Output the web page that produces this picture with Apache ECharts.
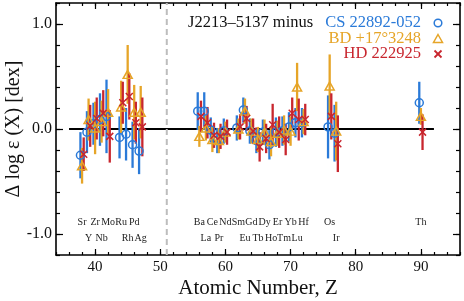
<!DOCTYPE html>
<html><head><meta charset="utf-8">
<script src="https://cdn.jsdelivr.net/npm/echarts@6/dist/echarts.min.js"></script>
<style>html,body{margin:0;padding:0;background:#fff}#c{width:464px;height:301px}</style>
</head><body><div id="c"></div>
<script>
// ---------------- data ----------------
const Z       = [38, 39, 40, 41, 42, 44, 45, 46, 47, 56, 57, 58, 59, 60, 62, 63, 64, 65, 66, 67, 68, 69, 70, 71, 72, 76, 77, 90];
const csVal   = [-0.25,-0.03, 0.05, 0.09, 0.12,-0.08,-0.05,-0.15,-0.21, 0.17, 0.17,-0.01,-0.11,-0.02, 0.01, 0.18,-0.02,-0.11,-0.03,-0.15,-0.03,-0.02, 0.02, 0.06, 0.06, 0.02,-0.04, 0.25];
const csErr   = [ 0.22, 0.20, 0.20, 0.25, 0.35, 0.20, 0.25, 0.22, 0.22, 0.18, 0.18, 0.12, 0.12, 0.12, 0.12, 0.12, 0.12, 0.12, 0.12, 0.14, 0.14, 0.14, 0.14, 0.14, 0.14, 0.30, 0.27, 0.20];
const bdVal   = [-0.35, 0.09, 0.01, 0.07, 0.16, 0.21, 0.52, 0.16, 0.16,-0.07, 0.01,-0.10,-0.11,-0.03, 0.00, 0.17,-0.02,-0.10,-0.03,-0.12,-0.04,-0.01,-0.02, 0.40, 0.07, 0.41,-0.02, 0.12];
const bdErr   = [ 0.17, 0.20, 0.25, 0.20, 0.22, 0.25, 0.28, 0.26, 0.25, 0.10, 0.12, 0.12, 0.12, 0.10, 0.10, 0.12, 0.12, 0.12, 0.12, 0.14, 0.12, 0.14, 0.14, 0.23, 0.12, 0.30, 0.28, 0.08];
const hdVal   = [-0.24, 0.03, 0.10, 0.15,-0.07, 0.25, 0.31, 0.06, 0.02, 0.12, 0.06,-0.06,-0.07,-0.03, 0.02, 0.10,-0.02,-0.17,-0.09, 0.04,-0.03,-0.10, 0.15, 0.09, 0.09, 0.12,-0.14,-0.03];
const hdErr   = [ 0.16, 0.20, 0.20, 0.22, 0.25, 0.20, 0.22, 0.20, 0.28, 0.15, 0.15, 0.12, 0.12, 0.12, 0.12, 0.12, 0.12, 0.14, 0.14, 0.20, 0.15, 0.15, 0.15, 0.20, 0.15, 0.22, 0.27, 0.17];
const upperNames = ['Sr','Zr','Mo','Ru','Pd','Ba','Ce','Nd','Sm','Gd','Dy','Er','Yb','Hf','Os','Th'];
const upperZ     = [38, 40, 42, 44, 46, 56, 58, 60, 62, 64, 66, 68, 70, 72, 76, 90];
const lowerNames = ['Y','Nb','Rh','Ag','La','Pr','Eu','Tb','Ho','Tm','Lu','Ir'];
const lowerZ     = [39, 41, 45, 47, 57, 59, 63, 65, 67, 69, 71, 77];
const xTickLabels = [40, 50, 60, 70, 80, 90];
const yTickLabels = [-1, 0, 1];
const seriesNames = ['CS 22892-052', 'BD +17°3248', 'HD 222925'];
const titleText = 'J2213–5137 minus';
const zeroLineZ = [36, 92];
const dividerZ = 51;

// ---------------- style ----------------
const FONT = '"Liberation Serif", "DejaVu Serif", serif';
const BLUE = '#2a7ad8', ORANGE = '#e6a528', RED = '#c8262e';
const X_MIN = 34, X_MAX = 96, Y_MIN = -1.2, Y_MAX = 1.2;
const UPPER_Y = -0.89, LOWER_Y = -1.045;

const stars = [
  {name: seriesNames[0], val: csVal, err: csErr, color: BLUE,   off: -0.25, symbol: 'circle', size: 8},
  {name: seriesNames[1], val: bdVal, err: bdErr, color: ORANGE, off: 0,     symbol: 'triangle', size: [9, 8]},
  {name: seriesNames[2], val: hdVal, err: hdErr, color: RED,    off: 0.25,  symbol: 'path://M0 0L10 10M10 0L0 10', size: 7}
];

const series = [];
series.push({
  type: 'line', data: [[zeroLineZ[0], 0], [zeroLineZ[1], 0]], symbol: 'none', silent: true, z: 1,
  lineStyle: {color: '#000', width: 2}
});
series.push({
  type: 'line', data: [[dividerZ, Y_MIN], [dividerZ, Y_MAX]], symbol: 'none', silent: true, z: 1,
  lineStyle: {color: '#bdbdbd', width: 2, type: [6, 4]}
});
stars.forEach(s => {
  series.push({
    type: 'custom', name: s.name + ' err', z: 2, silent: true,
    data: Z.map((z, i) => [z, s.val[i] - s.err[i], s.val[i] + s.err[i]]),
    renderItem: (params, api) => {
      const p1 = api.coord([api.value(0) + s.off, api.value(1)]);
      const p2 = api.coord([api.value(0) + s.off, api.value(2)]);
      return {type: 'line', shape: {x1: p1[0], y1: p1[1], x2: p2[0], y2: p2[1]},
              style: {stroke: s.color, lineWidth: 2.3}};
    }
  });
});
stars.forEach(s => {
  series.push({
    type: 'scatter', name: s.name, z: 3, silent: true,
    symbol: s.symbol, symbolSize: s.size,
    data: Z.map((z, i) => [z + s.off, s.val[i]]),
    itemStyle: {color: 'rgba(0,0,0,0)', borderColor: s.color, borderWidth: 1.5, opacity: 1}
  });
});
function labelSeries(names, zs, yLevel) {
  return {
    type: 'custom', z: 4, silent: true,
    data: zs.map((z, i) => [z, yLevel, names[i]]),
    renderItem: (params, api) => {
      const p = api.coord([api.value(0), api.value(1)]);
      return {type: 'text', x: p[0], y: p[1],
              style: {text: names[params.dataIndex], fill: '#222', font: '10px ' + FONT,
                      align: 'center', verticalAlign: 'middle'}};
    }
  };
}
series.push(labelSeries(upperNames, upperZ, UPPER_Y));
series.push(labelSeries(lowerNames, lowerZ, LOWER_Y));

const axisCommonX = {type: 'value', min: X_MIN, max: X_MAX, gridIndex: 0, splitLine: {show: false}};
const axisCommonY = {type: 'value', min: Y_MIN, max: Y_MAX, gridIndex: 0, splitLine: {show: false}};
const tickStyle = {color: '#000', width: 1.2};

const option = {
  animation: false,
  grid: {left: 56, right: 4, top: 3, bottom: 46, containLabel: false, outerBoundsMode: 'none'},
  xAxis: [
    Object.assign({}, axisCommonX, {
      position: 'bottom', interval: 2,
      axisLine: {show: true, onZero: false, lineStyle: {color: '#000', width: 1.6}},
      axisTick: {show: true, inside: true, length: 3, lineStyle: tickStyle},
      axisLabel: {customValues: xTickLabels, color: '#111', fontFamily: FONT, fontSize: 15, margin: 5},
      name: 'Atomic Number, Z', nameLocation: 'middle', nameGap: 23, nameMoveOverlap: false,
      nameTextStyle: {color: '#111', fontFamily: FONT, fontSize: 21}
    }),
    Object.assign({}, axisCommonX, {
      position: 'bottom',
      axisLine: {show: false, onZero: false},
      axisTick: {show: true, inside: true, length: 6, customValues: xTickLabels, lineStyle: tickStyle},
      axisLabel: {show: false}
    }),
    Object.assign({}, axisCommonX, {
      position: 'top', interval: 2,
      axisLine: {show: true, onZero: false, lineStyle: {color: '#000', width: 1.6}},
      axisTick: {show: true, inside: true, length: 3, lineStyle: tickStyle},
      axisLabel: {show: false}
    }),
    Object.assign({}, axisCommonX, {
      position: 'top',
      axisLine: {show: false, onZero: false},
      axisTick: {show: true, inside: true, length: 6, customValues: xTickLabels, lineStyle: tickStyle},
      axisLabel: {show: false}
    })
  ],
  yAxis: [
    Object.assign({}, axisCommonY, {
      position: 'left', interval: 0.2,
      axisLine: {show: true, onZero: false, lineStyle: {color: '#000', width: 1.6}},
      axisTick: {show: true, inside: true, length: 4, lineStyle: tickStyle},
      axisLabel: {customValues: yTickLabels, formatter: v => Number(v).toFixed(1),
                  color: '#111', fontFamily: FONT, fontSize: 16, margin: 4},
      name: 'Δ log ε (X) [dex]', nameLocation: 'middle', nameGap: 32, nameRotate: 90, nameMoveOverlap: false,
      nameTextStyle: {color: '#111', fontFamily: FONT, fontSize: 20}
    }),
    Object.assign({}, axisCommonY, {
      position: 'left',
      axisLine: {show: false, onZero: false},
      axisTick: {show: true, inside: true, length: 7, customValues: yTickLabels, lineStyle: tickStyle},
      axisLabel: {show: false}
    }),
    Object.assign({}, axisCommonY, {
      position: 'right', interval: 0.2,
      axisLine: {show: true, onZero: false, lineStyle: {color: '#000', width: 1.6}},
      axisTick: {show: true, inside: true, length: 4, lineStyle: tickStyle},
      axisLabel: {show: false}
    }),
    Object.assign({}, axisCommonY, {
      position: 'right',
      axisLine: {show: false, onZero: false},
      axisTick: {show: true, inside: true, length: 7, customValues: yTickLabels, lineStyle: tickStyle},
      axisLabel: {show: false}
    })
  ],
  graphic: [
    {type: 'text', x: 188, y: 23, z: 10,
     style: {text: titleText, fill: '#111', font: '16.5px ' + FONT, align: 'left', verticalAlign: 'middle'}},
    {type: 'text', x: 421, y: 23, z: 10,
     style: {text: seriesNames[0], fill: BLUE, font: '16.5px ' + FONT, align: 'right', verticalAlign: 'middle'}},
    {type: 'text', x: 421, y: 38.5, z: 10,
     style: {text: seriesNames[1], fill: ORANGE, font: '16.5px ' + FONT, align: 'right', verticalAlign: 'middle'}},
    {type: 'text', x: 421, y: 54, z: 10,
     style: {text: seriesNames[2], fill: RED, font: '16.5px ' + FONT, align: 'right', verticalAlign: 'middle'}},
    {type: 'circle', z: 10, shape: {cx: 438, cy: 23, r: 3.8},
     style: {fill: 'none', stroke: BLUE, lineWidth: 1.5}},
    {type: 'polygon', z: 10, shape: {points: [[438, 34.5], [442.5, 42.5], [433.5, 42.5]]},
     style: {fill: 'none', stroke: ORANGE, lineWidth: 1.5}},
    {type: 'polyline', z: 10, shape: {points: [[434.5, 50.5], [441.5, 57.5]]},
     style: {fill: 'none', stroke: RED, lineWidth: 1.8}},
    {type: 'polyline', z: 10, shape: {points: [[441.5, 50.5], [434.5, 57.5]]},
     style: {fill: 'none', stroke: RED, lineWidth: 1.8}}
  ],
  series: series
};
const chart = echarts.init(document.getElementById('c'), null, {renderer: 'canvas'});
chart.setOption(option);
</script>
</body></html>
